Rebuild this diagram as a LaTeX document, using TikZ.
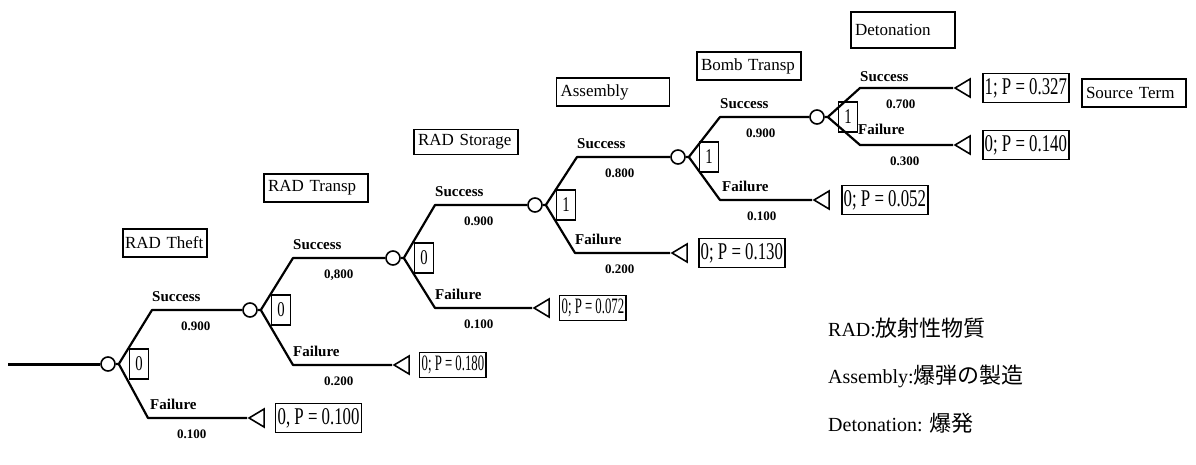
\documentclass[tikz,border=0pt]{standalone}
\usepackage{fontspec}
\setmainfont{Liberation Serif}
\newfontfamily\condfont[FakeStretch=0.7]{Liberation Serif}
\newfontfamily\tightfont[FakeStretch=0.58]{Liberation Serif}
\newfontfamily\cjk{Noto Sans CJK JP}
\usetikzlibrary{positioning,shapes.geometric}
\newcommand{\fsz}[1]{\fontsize{#1}{#1}\selectfont}

\begin{document}
\begin{tikzpicture}[x=1pt,y=-1pt,
  chance/.style={draw,circle,inner sep=0pt,minimum size=14pt,line width=1.6pt},
  val/.style={draw,line width=1.6pt,inner sep=0pt,minimum width=19pt,minimum height=30pt,font=\condfont\fsz{21}},
  tip/.style={draw,isosceles triangle,isosceles triangle stretches,shape border rotate=180,inner sep=0pt,minimum width=18pt,minimum height=15pt,line width=1.6pt,anchor=apex},
  term/.style={draw,line width=1.6pt,inner sep=2pt,minimum height=29pt,font=\condfont\fsz{24}},
  small/.style={font=\tightfont\fsz{22},minimum height=25pt},
  stage/.style={draw,line width=1.6pt,minimum height=28pt,text width=96pt,align=left,inner xsep=4pt,font=\fsz{17}},
  lbl/.style={inner sep=0pt,font=\bfseries\fsz{15}},
  pr/.style={inner sep=0pt,font=\bfseries\fsz{13}},
  branch/.style={line width=2.2pt,line join=round},
  legend/.style={anchor=west,inner sep=0pt,font=\fsz{20}}]
\useasboundingbox (0,0) rectangle (1196,465);

% stage headers
\node[stage,text width=80pt,inner xsep=2pt] (hTheft) at (165,243) {RAD Theft};
\node[stage] (hTransp) at (316,188) {RAD Transp};
\node[stage,minimum height=25pt] (hStorage) at (466,142) {RAD Storage};
\node[stage,text width=105pt] (hAssy) at (613,92) {Assembly};
\node[stage] (hBomb) at (749,66) {Bomb Transp};
\node[stage,minimum height=36pt] (hDeto) at (903,30) {Detonation};
\node[stage] (hSource) at (1134,93) {Source Term};

% chance nodes
\coordinate (start) at (8,364);
\node[chance] (theft) at (108,364) {};
\node[chance] (transp) at (250,310) {};
\node[chance] (storage) at (393,258) {};
\node[chance] (assy) at (535,205) {};
\node[chance] (bomb) at (678,157) {};
\node[chance] (deto) at (817,117) {};
\coordinate[right=3pt of theft] (theftA);
\coordinate[right=3pt of transp] (transpA);
\coordinate[right=3pt of storage] (storageA);
\coordinate[right=3pt of assy] (assyA);
\coordinate[right=3pt of bomb] (bombA);
\coordinate[right=3pt of deto] (detoA);
\node[val,right=10pt of theftA] (theftV) {0};
\node[val,right=10pt of transpA] (transpV) {0};
\node[val,right=10pt of storageA] (storageV) {0};
\node[val,right=10pt of assyA] (assyV) {1};
\node[val,right=10pt of bombA] (bombV) {1};
\node[val,right=10pt of detoA] (detoV) {1};

% branch bends
\coordinate (theftU) at (152,310); \coordinate (theftD) at (148,418);
\coordinate (transpU) at (293,258); \coordinate (transpD) at (293,365);
\coordinate (storageU) at (435,205); \coordinate (storageD) at (435,308);
\coordinate (assyU) at (577,157); \coordinate (assyD) at (575,253);
\coordinate (bombU) at (720,117); \coordinate (bombD) at (720,200);
\coordinate (detoU) at (860,88); \coordinate (detoD) at (860,145);

% end points
\node[tip] (theftT) at (247,418) {};
\node[tip] (transpT) at (392,365) {};
\node[tip] (storageT) at (532,308) {};
\node[tip] (assyT) at (670,253) {};
\node[tip] (bombT) at (812,200) {};
\node[tip] (detoTs) at (953,88) {};
\node[tip] (detoTf) at (953,145) {};
\node[term,right=10pt of theftT] (theftP) {0, P = 0.100};
\node[term,small,right=9pt of transpT] (transpP) {0; P = 0.180};
\node[term,small,right=9pt of storageT] (storageP) {0; P = 0.072};
\node[term,right=10pt of assyT] (assyP) {0; P = 0.130};
\node[term,right=11pt of bombT] (bombP) {0; P = 0.052};
\node[term,right=11pt of detoTs] (detoPs) {1; P = 0.327};
\node[term,right=11pt of detoTf] (detoPf) {0; P = 0.140};

% branches
\draw[branch,line width=3pt] (start) -- (theft);
\draw[branch] (theft) -- (theftA) -- (theftU) -- (transp);
\draw[branch] (theftA) -- (theftD) -- (theftT.apex);
\draw[branch] (transp) -- (transpA) -- (transpU) -- (storage);
\draw[branch] (transpA) -- (transpD) -- (transpT.apex);
\draw[branch] (storage) -- (storageA) -- (storageU) -- (assy);
\draw[branch] (storageA) -- (storageD) -- (storageT.apex);
\draw[branch] (assy) -- (assyA) -- (assyU) -- (bomb);
\draw[branch] (assyA) -- (assyD) -- (assyT.apex);
\draw[branch] (bomb) -- (bombA) -- (bombU) -- (deto);
\draw[branch] (bombA) -- (bombD) -- (bombT.apex);
\draw[branch] (deto) -- (detoA) -- (detoU) -- (detoTs.apex);
\draw[branch] (detoA) -- (detoD) -- (detoTf.apex);

% branch labels
\node[lbl,above right=8pt and 0pt of theftU] (theftS) {Success};
\node[pr,below right=12pt and 29pt of theftU] (theftSp) {0.900};
\node[lbl,above right=8pt and 2pt of theftD] (theftF) {Failure};
\node[pr,below right=12pt and 29pt of theftD] (theftFp) {0.100};
\node[lbl,above right=8pt and 0pt of transpU] (transpS) {Success};
\node[pr,below right=12pt and 31pt of transpU] (transpSp) {0,800};
\node[lbl,above right=8pt and 0pt of transpD] (transpF) {Failure};
\node[pr,below right=12pt and 31pt of transpD] (transpFp) {0.200};
\node[lbl,above right=8pt and 0pt of storageU] (storageS) {Success};
\node[pr,below right=12pt and 29pt of storageU] (storageSp) {0.900};
\node[lbl,above right=8pt and 0pt of storageD] (storageF) {Failure};
\node[pr,below right=12pt and 29pt of storageD] (storageFp) {0.100};
\node[lbl,above right=8pt and 0pt of assyU] (assyS) {Success};
\node[pr,below right=12pt and 28pt of assyU] (assySp) {0.800};
\node[lbl,above right=8pt and 0pt of assyD] (assyF) {Failure};
\node[pr,below right=12pt and 30pt of assyD] (assyFp) {0.200};
\node[lbl,above right=8pt and 0pt of bombU] (bombS) {Success};
\node[pr,below right=12pt and 26pt of bombU] (bombSp) {0.900};
\node[lbl,above right=8pt and 2pt of bombD] (bombF) {Failure};
\node[pr,below right=12pt and 27pt of bombD] (bombFp) {0.100};
\node[lbl,above right=6pt and 0pt of detoU] (detoS) {Success};
\node[pr,below right=12pt and 26pt of detoU] (detoSp) {0.700};
\node[lbl,above right=10pt and -2pt of detoD] (detoF) {Failure};
\node[pr,below right=12pt and 30pt of detoD] (detoFp) {0.300};

% legend
\node[legend] (legRad) at (828,328) {RAD:{\cjk\fsz{22}放射性物質}};
\node[legend] (legAssy) at (828,376) {Assembly:{\cjk\fsz{22}爆弾の製造}};
\node[legend] (legDeto) at (828,423) {Detonation: {\cjk\fsz{22}爆発}};
\end{tikzpicture}
\end{document}
